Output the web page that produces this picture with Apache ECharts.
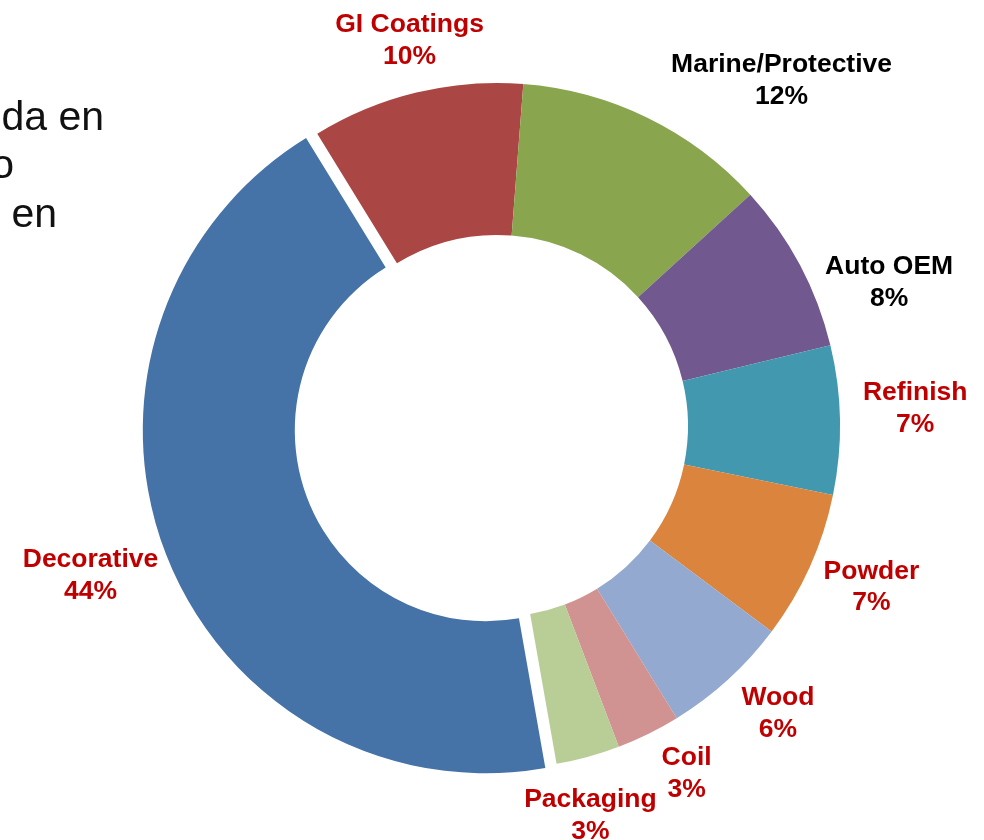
<!DOCTYPE html>
<html>
<head>
<meta charset="utf-8">
<script src="https://cdn.jsdelivr.net/npm/echarts@6/dist/echarts.min.js"></script>
<style>
  html, body { margin: 0; padding: 0; background: #ffffff; }
  #chart { width: 984px; height: 840px; }
</style>
</head>
<body>
<div id="chart"></div>
<script>
// ---- data ----
const categories = ['GI Coatings', 'Marine/Protective', 'Auto OEM', 'Refinish', 'Powder', 'Wood', 'Coil', 'Packaging', 'Decorative'];
const shares = [10, 12, 8, 7, 7, 6, 3, 3, 44];
const percentLabels = ['10%', '12%', '8%', '7%', '7%', '6%', '3%', '3%', '44%'];
const explodedCategories = ['Decorative'];
const sideTextLines = ['da en', 'o', 'en'];

// ---- styles ----
const sliceColors = ['#AA4643', '#89A54E', '#71588F', '#4198AF', '#DB843D', '#93A9CF', '#D19392', '#B9CD96', '#4572A7'];
const labelColors = ['#C00000', '#000000', '#000000', '#C00000', '#C00000', '#C00000', '#C00000', '#C00000', '#C00000'];
const CENTER = [497, 426];
const R_IN = 191, R_OUT = 343;
const START_ANGLE = 121.6;   // echarts convention (deg, ccw from 3 o'clock)
const EXPLODE = 12;
const LABEL_GAP = 15;
const LABEL_FONT_SIZE = 26.5;
const LABEL_LINE_H = 31.5;
const LABEL_FONT = 'bold ' + LABEL_FONT_SIZE + 'px "Liberation Sans", Arial, sans-serif';
const labelNudge = {
  'GI Coatings': [23, -6],
  'Marine/Protective': [55, 8],
  'Auto OEM': [12, 47],
  'Refinish': [8, -10],
  'Powder': [0, -5],
  'Wood': [3, -8],
  'Coil': [15, -5],
  'Packaging': [-28, 13]
};
// exploded (selected) slices keep the pie's own outside label layout, tuned by guide-line lengths
const explodedLabelLine = { length: 67, length2: 7 };

const total = shares.reduce((a, b) => a + b, 0);
function midAngle(i) { // radians, clockwise from 12 o'clock
  let acc = 0;
  for (let j = 0; j < i; j++) acc += shares[j];
  const startCW = 90 - START_ANGLE;
  return (startCW + (acc + shares[i] / 2) / total * 360) * Math.PI / 180;
}
const clamp = v => Math.max(-1, Math.min(1, v));
const measureCtx = document.createElement('canvas').getContext('2d');
function labelBox(i) {
  measureCtx.font = LABEL_FONT;
  const lines = [categories[i], percentLabels[i]];
  const w = Math.max.apply(null, lines.map(l => measureCtx.measureText(l).width));
  return [w, lines.length * LABEL_LINE_H];
}
const isExploded = i => explodedCategories.indexOf(categories[i]) >= 0;

const chart = echarts.init(document.getElementById('chart'), null, { renderer: 'canvas' });

const option = {
  backgroundColor: '#ffffff',
  animation: false,
  graphic: sideTextLines.map((t, i) => ({
    type: 'text',
    x: [104, 14, 57][i],
    y: [119, 167, 216][i],
    silent: true,
    style: {
      text: t,
      fill: '#111111',
      font: '41px "Liberation Sans", Arial, sans-serif',
      textAlign: 'right',
      verticalAlign: 'middle'
    }
  })),
  series: [{
    type: 'pie',
    center: CENTER,
    radius: [R_IN, R_OUT],
    startAngle: START_ANGLE,
    clockwise: true,
    avoidLabelOverlap: false,
    selectedMode: 'multiple',
    selectedOffset: EXPLODE,
    emphasis: { disabled: true },
    itemStyle: { borderWidth: 0 },
    label: {
      show: true,
      position: 'outside',
      fontFamily: '"Liberation Sans", Arial, sans-serif',
      fontWeight: 'bold',
      fontSize: LABEL_FONT_SIZE,
      lineHeight: LABEL_LINE_H,
      align: 'center',
      distanceToLabelLine: 5
    },
    labelLine: { show: false, length: 10, length2: 0 },
    labelLayout: function (p) {
      const i = p.dataIndex;
      if (isExploded(i)) return { align: 'center', verticalAlign: 'middle' };
      const a = midAngle(i);
      const dx = Math.sin(a), dy = -Math.cos(a);
      const box = labelBox(i);
      const w = box[0], h = box[1];
      const px = CENTER[0] + dx * (R_OUT + LABEL_GAP);
      const py = CENTER[1] + dy * (R_OUT + LABEL_GAP);
      const n = labelNudge[categories[i]] || [0, 0];
      return {
        x: px + w / 2 * clamp(1.5 * dx) + n[0],
        y: py + h / 2 * clamp(1.5 * dy) + n[1],
        align: 'center',
        verticalAlign: 'middle'
      };
    },
    data: categories.map((name, i) => {
      const item = {
        name: name,
        value: shares[i],
        selected: isExploded(i),
        itemStyle: { color: sliceColors[i] },
        select: { itemStyle: { color: sliceColors[i] } },
        label: {
          color: labelColors[i],
          formatter: name + '\n' + percentLabels[i]
        }
      };
      if (isExploded(i)) item.labelLine = { show: false, length: explodedLabelLine.length, length2: explodedLabelLine.length2 };
      return item;
    })
  }]
};
chart.setOption(option);
</script>
</body>
</html>
